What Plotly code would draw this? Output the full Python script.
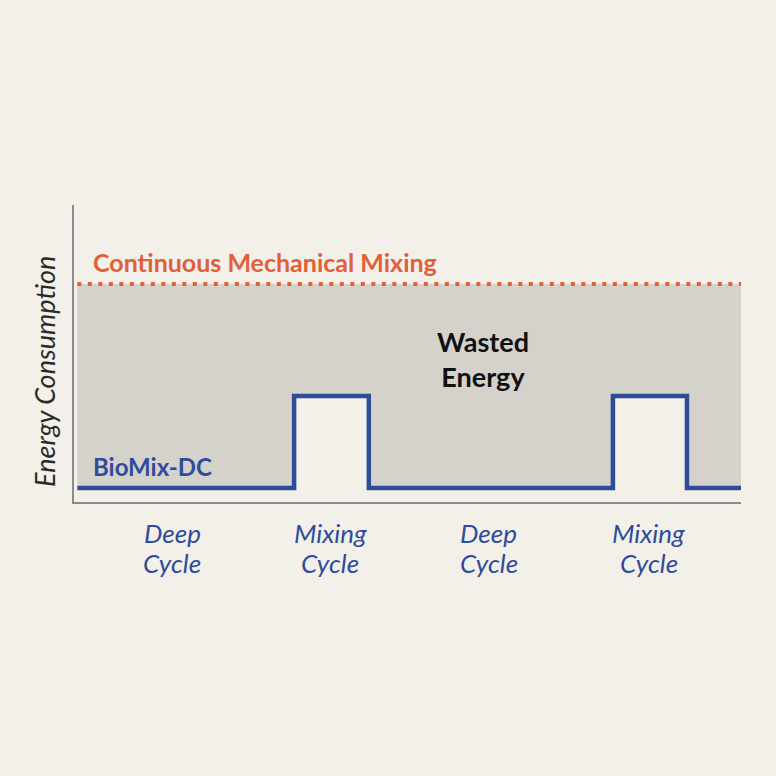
import plotly.graph_objects as go

# --- data (arbitrary units, time in % of a run) ---
phase_names = ["Deep Cycle", "Mixing Cycle", "Deep Cycle", "Mixing Cycle", "Deep Cycle"]
phase_bounds = [0.5, 33.0, 44.2, 80.8, 91.9, 100.0]
biomix_power = [4.7, 35.7, 4.7, 35.7, 4.7]
continuous_power = 73.4

tick_pos = [14.7, 38.4, 62.2, 86.2]
tick_text = [["Deep", "Cycle"], ["Mixing", "Cycle"], ["Deep", "Cycle"], ["Mixing", "Cycle"]]

BG = "#f2f0e9"
FILL = "#d5d2cb"
BLUE = "#2f4b9b"
ORANGE = "#e0603a"
AXIS = "#8c8c8c"
FONT = "Lato"

# build step line from phases
step_x, step_y = [], []
for i, p in enumerate(biomix_power):
    step_x += [phase_bounds[i], phase_bounds[i + 1]]
    step_y += [p, p]

fig = go.Figure()

fig.add_trace(go.Scatter(
    x=[phase_bounds[0], phase_bounds[-1]],
    y=[continuous_power, continuous_power],
    mode="lines", line=dict(color="rgba(0,0,0,0)", width=0),
    hoverinfo="skip", showlegend=False,
))
fig.add_trace(go.Scatter(
    x=step_x, y=step_y, mode="lines",
    line=dict(color=BLUE, width=4.5),
    fill="tonexty", fillcolor=FILL,
    name="BioMix-DC", showlegend=False,
))
fig.add_trace(go.Scatter(
    x=[phase_bounds[0], phase_bounds[-1]],
    y=[continuous_power, continuous_power],
    mode="lines", line=dict(color=ORANGE, width=4, dash="4px,6.5px"),
    name="Continuous Mechanical Mixing", showlegend=False,
))

fig.add_annotation(x=2.6, y=80.8, text="<b>Continuous Mechanical Mixing</b>",
                   showarrow=False, xanchor="left", yanchor="middle",
                   font=dict(family=FONT, size=25, color=ORANGE))
fig.add_annotation(x=2.6, y=12.1, text="<b>BioMix-DC</b>",
                   showarrow=False, xanchor="left", yanchor="middle",
                   font=dict(family=FONT, size=24, color=BLUE))
fig.add_annotation(x=61.3, y=48.1, text="<b>Wasted<br>Energy</b>",
                   showarrow=False, xanchor="center", yanchor="middle",
                   font=dict(family=FONT, size=27, color="#111111"))

# y-axis title, placed a little below the axis centre as in the source
fig.add_annotation(xref="paper", yref="paper", x=-0.044, y=0.44,
                   text="Energy Consumption", textangle=-90, showarrow=False,
                   xanchor="center", yanchor="middle",
                   font=dict(family=FONT, size=27, color="#2a2a2a", style="italic"))

# category labels under the x axis
for pos, lines in zip(tick_pos, tick_text):
    for j, line in enumerate(lines):
        fig.add_annotation(x=pos, yref="paper", y=-0.104 - 0.101 * j, text=line,
                           showarrow=False, xanchor="center", yanchor="middle",
                           font=dict(family=FONT, size=26, color=BLUE, style="italic"))

fig.update_xaxes(range=[0, 100], showgrid=False, zeroline=False,
                 showline=True, linecolor=AXIS, linewidth=2,
                 showticklabels=False, ticks="")
fig.update_yaxes(range=[0, 100], showgrid=False, zeroline=False,
                 showline=True, linecolor=AXIS, linewidth=2,
                 showticklabels=False, ticks="")

fig.update_layout(
    width=776, height=776,
    margin=dict(l=74, r=35, t=205, b=274),
    paper_bgcolor=BG, plot_bgcolor=BG,
    showlegend=False,
)

fig.write_html("out.html",
               config={"displayModeBar": False},
               post_script="document.body.style.margin='0';"
                           "document.body.style.background='%s';" % BG)
